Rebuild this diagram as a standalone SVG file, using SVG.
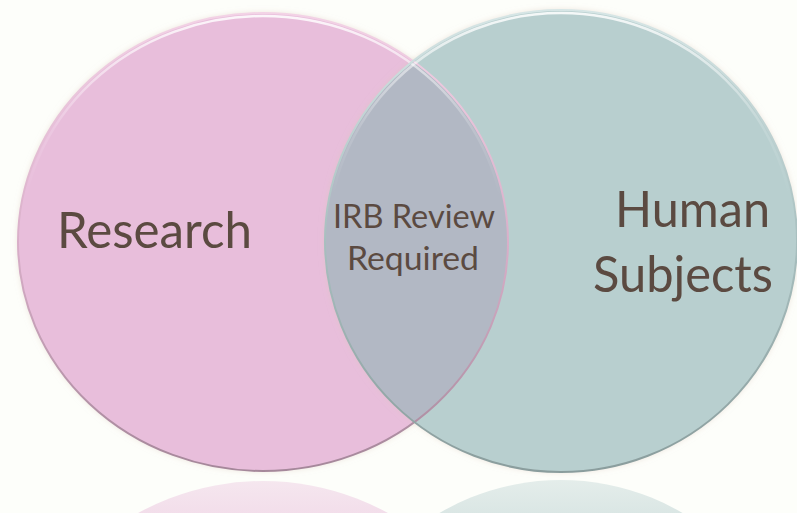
<svg xmlns="http://www.w3.org/2000/svg" width="797" height="513" viewBox="0 0 797 513">
  <defs>
    <style>
      .lbl { font-family: "Lato", "Open Sans", "Liberation Sans", sans-serif; fill: #5B4A41; }
      .big { font-size: 50px; }
      .mid { font-size: 32px; }
      .hl { fill: none; stroke: url(#hiGrad); stroke-width: 2.5; }
    </style>
    <filter id="glow" x="-10%" y="-10%" width="120%" height="120%">
      <feGaussianBlur in="SourceAlpha" stdDeviation="3" result="b"/>
      <feFlood flood-color="#d9c6b8" flood-opacity="0.55"/>
      <feComposite in2="b" operator="in" result="s"/>
      <feMerge><feMergeNode in="s"/><feMergeNode in="SourceGraphic"/></feMerge>
    </filter>
    <linearGradient id="edgePink" x1="0" y1="0" x2="0" y2="1">
      <stop offset="0" stop-color="#f3d3e6"/>
      <stop offset="0.5" stop-color="#d9afc9"/>
      <stop offset="1" stop-color="#a5879a"/>
    </linearGradient>
    <linearGradient id="edgeTeal" x1="0" y1="0" x2="0" y2="1">
      <stop offset="0" stop-color="#d7e6e6"/>
      <stop offset="0.5" stop-color="#a8bfbf"/>
      <stop offset="1" stop-color="#8a9d9d"/>
    </linearGradient>
    <linearGradient id="hiGrad" x1="0" y1="0" x2="0" y2="1">
      <stop offset="0" stop-color="#ffffff" stop-opacity="0.85"/>
      <stop offset="0.25" stop-color="#ffffff" stop-opacity="0.15"/>
      <stop offset="0.4" stop-color="#ffffff" stop-opacity="0"/>
    </linearGradient>
    <linearGradient id="reflPink" gradientUnits="userSpaceOnUse" x1="0" y1="478" x2="0" y2="513">
      <stop offset="0" stop-color="#E8BEDB" stop-opacity="0.35"/>
      <stop offset="1" stop-color="#E8BEDB" stop-opacity="0.5"/>
    </linearGradient>
    <linearGradient id="reflTeal" gradientUnits="userSpaceOnUse" x1="0" y1="478" x2="0" y2="513">
      <stop offset="0" stop-color="#B8CFCF" stop-opacity="0.35"/>
      <stop offset="1" stop-color="#B8CFCF" stop-opacity="0.5"/>
    </linearGradient>
    <clipPath id="clipLeft">
      <ellipse cx="263" cy="242" rx="245" ry="229"/>
    </clipPath>
  </defs>

  <rect width="797" height="513" fill="#FDFEFA"/>

  <!-- reflections -->
  <g id="reflections">
    <ellipse cx="263" cy="710" rx="245" ry="229" fill="url(#reflPink)"/>
    <ellipse cx="561" cy="711" rx="236" ry="231" fill="url(#reflTeal)"/>
  </g>

  <g id="research">
    <ellipse cx="263" cy="242" rx="245" ry="229" fill="#E8BEDB" filter="url(#glow)"/>
  </g>

  <g id="human-subjects">
    <ellipse cx="561" cy="241" rx="236" ry="231" fill="#B8CFCF" filter="url(#glow)"/>
  </g>

  <g id="irb-review">
    <ellipse cx="561" cy="241" rx="236" ry="231" fill="#B2B8C4" clip-path="url(#clipLeft)"/>
  </g>

  <!-- outlines / bevels -->
  <g id="outlines">
    <ellipse cx="263" cy="242" rx="245" ry="229" fill="none" stroke="url(#edgePink)" stroke-width="2"/>
    <ellipse cx="263" cy="242" rx="242" ry="226" class="hl"/>
    <ellipse cx="561" cy="241" rx="236" ry="231" fill="none" stroke="url(#edgeTeal)" stroke-width="2"/>
    <ellipse cx="561" cy="241" rx="233" ry="228" class="hl"/>
  </g>

  <g id="connectors"/>

  <g id="labels">
    <text class="lbl big" x="57" y="248" textLength="195" lengthAdjust="spacingAndGlyphs">Research</text>
    <text class="lbl mid" x="333" y="228" textLength="162" lengthAdjust="spacingAndGlyphs">IRB Review</text>
    <text class="lbl mid" x="347" y="270" textLength="132" lengthAdjust="spacingAndGlyphs">Required</text>
    <text class="lbl big" x="615" y="227" textLength="155" lengthAdjust="spacingAndGlyphs">Human</text>
    <text class="lbl big" x="593" y="292" textLength="180" lengthAdjust="spacingAndGlyphs">Subjects</text>
  </g>
</svg>
